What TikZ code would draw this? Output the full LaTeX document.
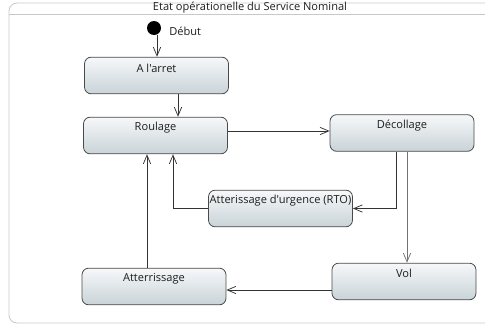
\documentclass[tikz,border=0pt]{standalone}
\usepackage{fontspec}
\setmainfont{Open Sans}[Ligatures=TeXOff]
\usetikzlibrary{arrows.meta,calc}
\definecolor{boxtop}{HTML}{F6F8F9}
\definecolor{boxbot}{HTML}{C9D3D8}
\definecolor{boxline}{HTML}{4A4A4A}
\definecolor{linecol}{HTML}{333333}
\definecolor{framecol}{HTML}{C8C8C8}
\definecolor{txt}{HTML}{1E1E1E}
\begin{document}
\begin{tikzpicture}[x=0.75pt,y=-0.75pt,
  state/.style={draw=boxline, line width=0.6pt, rounded corners=5pt,
    top color=boxtop, bottom color=boxbot, shading angle=0,
    minimum width=108pt, minimum height=27.5pt, inner sep=0pt},
  lbl/.style={font=\fontsize{8.3}{10}\selectfont, text=txt, inner sep=0pt},
  arr/.style={draw=linecol, line width=0.55pt, -{Straight Barb[length=6.5pt,width=5.5pt]}},
  arrlight/.style={arr, draw=black!55}]
\useasboundingbox (0,0) rectangle (485,325);
\begin{scope}
\clip (0,0) rectangle (485,325);
\draw[framecol, line width=0.6pt, rounded corners=6pt] (9,3) rectangle (500,323);
\draw[framecol, line width=0.6pt] (9,14) -- (500,14);
\end{scope}
\node[lbl] (title) at (250,7.5) {Etat opérationelle du Service Nominal};

\node[circle, fill=black, minimum size=10.5pt, inner sep=0pt] (start) at (154,28) {};
\node[lbl, anchor=west] (debut) at (169,31) {Début};

\node[state] (arret) at (156.5,75.5) {};
\node[lbl] (arret-t) at (156.5,68) {A l'arret};
\node[state] (roulage) at (155.5,135.5) {};
\node[lbl] (roulage-t) at (155.5,128) {Roulage};
\node[state] (decollage) at (402,133) {};
\node[lbl] (decollage-t) at (402,125.5) {Décollage};
\node[state] (rto) at (280.5,208.5) {};
\node[lbl] (rto-t) at (280.5,200.5) {Atterissage d'urgence (RTO)};
\node[state] (vol) at (404,281.5) {};
\node[lbl] (vol-t) at (404,273.5) {Vol};
\node[state] (atter) at (154,286.5) {};
\node[lbl] (atter-t) at (154,279) {Atterrissage};

\coordinate (s1) at ($(start.south)+(3,0)$);
\draw[arr] (s1) -- (s1 |- arret.north);
\coordinate (a1) at ($(arret.south)+(21.5,0)$);
\draw[arr] (a1) -- (a1 |- roulage.north);
\coordinate (r1) at ($(roulage.east)+(0,-4.5)$);
\draw[arr] (r1) -- (r1 -| decollage.west);
\coordinate (d1) at ($(decollage.south)+(-6,0)$);
\draw[arr] (d1) |- (rto.east);
\coordinate (d2) at ($(decollage.south)+(5,0)$);
\draw[arrlight] (d2) -- (d2 |- vol.north);
\coordinate (v1) at ($(vol.west)+(0,8.5)$);
\draw[arr] (v1) -- (v1 -| atter.east);
\coordinate (t1) at ($(atter.north)+(-7,0)$);
\draw[arr] (t1) -- (t1 |- roulage.south);
\coordinate (r2) at ($(roulage.south)+(17.5,0)$);
\draw[arr] (rto.west) -| (r2);
\end{tikzpicture}
\end{document}
